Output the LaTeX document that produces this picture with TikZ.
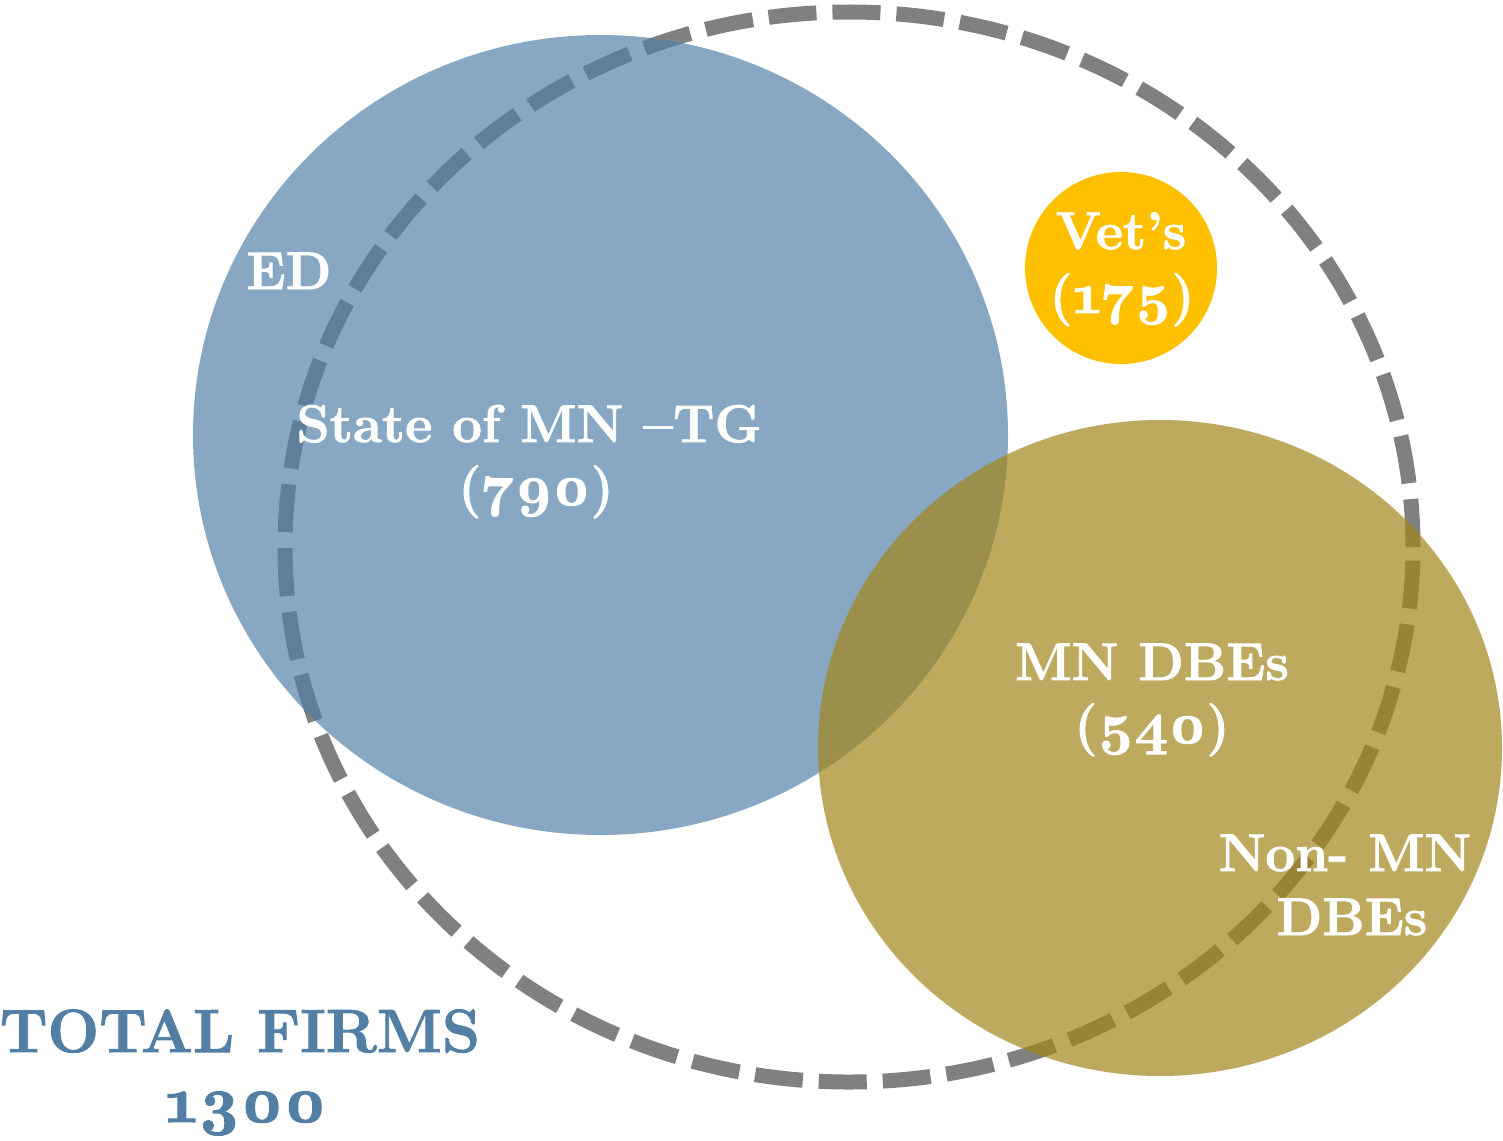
\documentclass[tikz,border=0pt]{standalone}
\usepackage{fontspec}
\setmainfont{Latin Modern Roman}[BoldFeatures={FakeBold=1.6}]
\usepackage{tikz}
\usepackage{graphicx}
\definecolor{edblue}{HTML}{4F7EA5}
\definecolor{dbeolive}{HTML}{A38619}
\definecolor{vetyellow}{HTML}{FFC000}
\definecolor{ringgray}{HTML}{808080}
\definecolor{titleblue}{HTML}{547FA5}
\newcommand{\osnum}[2]{\scalebox{#1}{\fontsize{10}{12}\selectfont\oldstylenums{#2}}}
\tikzset{
  lbl/.style={text=white, font=\fontsize{53}{63}\selectfont\bfseries, inner sep=0pt, anchor=base},
  ttl/.style={text=titleblue, font=\fontsize{61}{74}\selectfont\bfseries, inner sep=0pt, anchor=base},
  ring/.style={draw=ringgray, line width=15pt, dash pattern=on 48pt off 16pt},
}
\begin{document}
\begin{tikzpicture}[x=1pt,y=-1pt]
\useasboundingbox (0,0) rectangle (1503,1140);
% dashed total ring
\draw[ring] (849,547) ellipse [x radius=564pt, y radius=535pt];
% blue ED / State of MN ellipse
\fill[edblue, fill opacity=0.68] (600.5,435) ellipse [x radius=407.5pt, y radius=400pt];
% olive DBE ellipse
\fill[dbeolive, fill opacity=0.7] (1160,748) ellipse [x radius=342pt, y radius=328pt];
% vets circle
\fill[vetyellow] (1121,268) circle [radius=96pt];
% labels
\node[lbl] (ed) at (289,289) {ED};
\node[lbl] (st1) at (529,442) {State of MN --TG};
\node[lbl] (st2) at (536,505) {(\osnum{5.8}{790})};
\node[lbl] (v1) at (1121,249) {Vet's};
\node[lbl] (v2) at (1122,313) {(\osnum{5.8}{175})};
\node[lbl] (m1) at (1152,680) {MN DBEs};
\node[lbl] (m2) at (1152,743) {(\osnum{5.8}{540})};
\node[lbl] (n1) at (1345,871) {Non- MN};
\node[lbl] (n2) at (1352,935) {DBEs};
\node[ttl] (t1) at (240,1052) {TOTAL FIRMS};
\node[ttl] (t2) at (246,1122) {\osnum{6.6}{1300}};
\end{tikzpicture}
\end{document}
